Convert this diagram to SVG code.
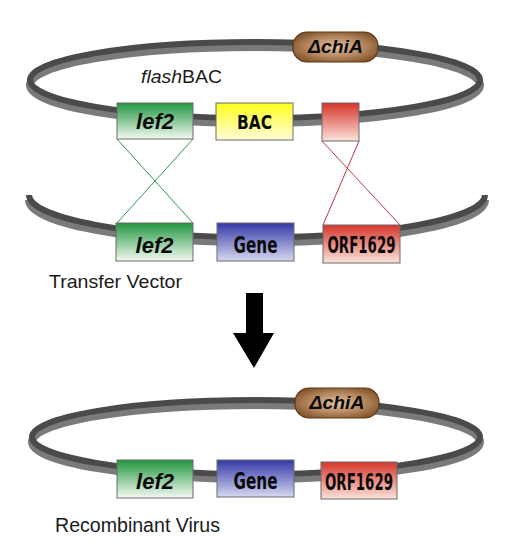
<svg xmlns="http://www.w3.org/2000/svg" width="512" height="548" viewBox="0 0 512 548">
<defs>
<linearGradient id="gGreen" x1="0" y1="0" x2="0" y2="1"><stop offset="0" stop-color="#22963f"/><stop offset="1" stop-color="#f4faf2"/></linearGradient>
<linearGradient id="gYellow" x1="0" y1="0" x2="0" y2="1"><stop offset="0" stop-color="#ffff1e"/><stop offset="1" stop-color="#fffbd8"/></linearGradient>
<linearGradient id="gRed" x1="0" y1="0" x2="0" y2="1"><stop offset="0" stop-color="#d5352b"/><stop offset="1" stop-color="#fbe3da"/></linearGradient>
<linearGradient id="gBlue" x1="0" y1="0" x2="0" y2="1"><stop offset="0" stop-color="#3438a6"/><stop offset="1" stop-color="#d6d8f0"/></linearGradient>
<radialGradient id="gBrown" cx="0.5" cy="0.5" r="0.6"><stop offset="0" stop-color="#e2c2a2"/><stop offset="0.6" stop-color="#b0825a"/><stop offset="1" stop-color="#7e5028"/></radialGradient>
</defs>
<style>
.ringLight{fill:none;stroke:#7a7a7a;stroke-width:8}
.ringDark{fill:none;stroke:#4a4a4a;stroke-width:6}
.box{stroke:#6a6a6a;stroke-width:1}
.pill{fill:url(#gBrown);stroke:#5a3818;stroke-width:1.2}
.lbl{font-family:"Liberation Sans",Arial,sans-serif;font-weight:bold;fill:#0a0a0a;text-anchor:middle}
.cond{font-family:"DejaVu Sans Condensed","Liberation Sans",sans-serif;font-weight:bold;fill:#0a0a0a;text-anchor:middle}
.cap{font-family:"Liberation Sans",Arial,sans-serif;fill:#1a1a1a}
.gline{stroke:#2f9a52;stroke-width:1;fill:none}
.rline{stroke:#b83a44;stroke-width:1;fill:none}
</style>
<rect width="512" height="548" fill="#fff"/>

<g id="ring-flashBAC">
<ellipse class="ringLight" cx="255" cy="85" rx="225" ry="38"/>
<ellipse class="ringDark" cx="255" cy="80" rx="225" ry="38"/>
</g>
<g id="ring-transfer">
<path class="ringLight" d="M 29 200 A 227 42 0 0 0 485 200"/>
<path class="ringDark" d="M 29 195 A 227 42 0 0 0 485 195"/>
</g>
<g id="ring-recombinant">
<ellipse class="ringLight" cx="256" cy="442" rx="224" ry="37"/>
<ellipse class="ringDark" cx="256" cy="437" rx="224" ry="37"/>
</g>

<g id="connectors">
<line class="gline" x1="117" y1="139" x2="193" y2="223"/>
<line class="gline" x1="193" y1="139" x2="117" y2="223"/>
<line class="rline" x1="322" y1="141" x2="400" y2="225"/>
<line class="rline" x1="359" y1="141" x2="323" y2="225"/>
</g>

<g id="label-flashBAC"><text class="cap" x="141" y="83" font-size="18" textLength="81" lengthAdjust="spacingAndGlyphs"><tspan font-style="italic">flash</tspan>BAC</text></g>

<g id="node-chiA-top">
<rect class="pill" x="293" y="32" width="85" height="30" rx="14"/>
<text class="lbl" x="335.5" y="53" font-size="18" font-style="italic" textLength="55" lengthAdjust="spacingAndGlyphs">ΔchiA</text>
</g>
<g id="node-lef2-top">
<rect class="box" x="117" y="103" width="76" height="36" fill="url(#gGreen)"/>
<text class="lbl" x="155" y="129" font-size="22" font-style="italic">lef2</text>
</g>
<g id="node-BAC">
<rect class="box" x="216" y="103" width="77" height="37" fill="url(#gYellow)"/>
<text class="cond" x="254.5" y="129" font-size="20" textLength="35" lengthAdjust="spacingAndGlyphs">BAC</text>
</g>
<g id="node-red-top">
<rect class="box" x="322" y="103" width="37" height="38" fill="url(#gRed)"/>
</g>

<g id="node-lef2-mid">
<rect class="box" x="116" y="223" width="77" height="38" fill="url(#gGreen)"/>
<text class="lbl" x="154.5" y="253" font-size="22" font-style="italic">lef2</text>
</g>
<g id="node-gene-mid">
<rect class="box" x="217" y="223" width="77" height="38" fill="url(#gBlue)"/>
<text class="cond" x="255.5" y="253" font-size="22.5" textLength="44" lengthAdjust="spacingAndGlyphs">Gene</text>
</g>
<g id="node-orf-mid">
<rect class="box" x="323" y="225" width="77" height="38" fill="url(#gRed)"/>
<text class="cond" x="361.5" y="253" font-size="22.5" textLength="68" lengthAdjust="spacingAndGlyphs">ORF1629</text>
</g>
<g id="label-transfer"><text class="cap" x="49" y="288" font-size="19" textLength="133" lengthAdjust="spacingAndGlyphs">Transfer Vector</text></g>

<g id="arrow">
<polygon points="246,293 263,293 263,333 274,333 254,368 233,333 246,333" fill="#000"/>
</g>

<g id="node-chiA-bottom">
<rect class="pill" x="295" y="388" width="84" height="30" rx="14"/>
<text class="lbl" x="337" y="409" font-size="18" font-style="italic" textLength="55" lengthAdjust="spacingAndGlyphs">ΔchiA</text>
</g>
<g id="node-lef2-bottom">
<rect class="box" x="117" y="460" width="76" height="38" fill="url(#gGreen)"/>
<text class="lbl" x="155" y="489" font-size="22" font-style="italic">lef2</text>
</g>
<g id="node-gene-bottom">
<rect class="box" x="217" y="460" width="77" height="37" fill="url(#gBlue)"/>
<text class="cond" x="255.5" y="489" font-size="22.5" textLength="44" lengthAdjust="spacingAndGlyphs">Gene</text>
</g>
<g id="node-orf-bottom">
<rect class="box" x="321" y="462" width="76" height="37" fill="url(#gRed)"/>
<text class="cond" x="359" y="490" font-size="22.5" textLength="68" lengthAdjust="spacingAndGlyphs">ORF1629</text>
</g>
<g id="label-recombinant"><text class="cap" x="55" y="532" font-size="20" textLength="165" lengthAdjust="spacingAndGlyphs">Recombinant Virus</text></g>
</svg>
